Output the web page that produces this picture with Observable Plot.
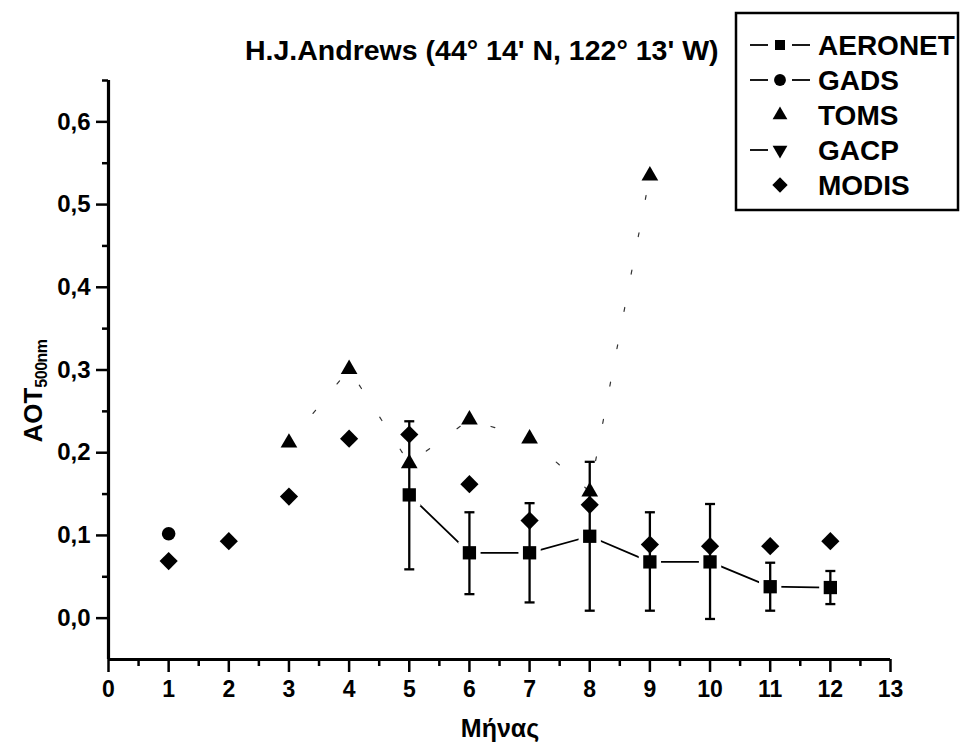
<!DOCTYPE html>
<html><head><meta charset="utf-8">
<script src="https://cdn.jsdelivr.net/npm/d3@7"></script>
<script src="https://cdn.jsdelivr.net/npm/@observablehq/plot@0.6"></script>
<style>body{margin:0;background:#fff} svg{display:block}</style>
</head><body><div id="chart"></div>
<script>
const title = "H.J.Andrews (44° 14' N, 122° 13' W)";
const xLabel = "Μήνας";
const yLabelMain = "AOT";
const yLabelSub = "500nm";
const seriesNames = ["AERONET", "GADS", "TOMS", "GACP", "MODIS"];

const aeronetMonths = [5, 6, 7, 8, 9, 10, 11, 12];
const aeronetValues = [0.149, 0.079, 0.079, 0.099, 0.068, 0.068, 0.038, 0.037];
const aeronetLow    = [0.059, 0.029, 0.019, 0.009, 0.009, -0.001, 0.009, 0.017];
const aeronetHigh   = [0.238, 0.128, 0.139, 0.189, 0.128, 0.138, 0.067, 0.057];

const gadsMonths = [1];
const gadsValues = [0.102];

const tomsMonths = [3, 4, 5, 6, 7, 8, 9];
const tomsValues = [0.212, 0.301, 0.187, 0.240, 0.217, 0.153, 0.535];

const gacpMonths = [];
const gacpValues = [];

const modisMonths = [1, 2, 3, 4, 5, 6, 7, 8, 9, 10, 11, 12];
const modisValues = [0.069, 0.093, 0.147, 0.217, 0.222, 0.162, 0.118, 0.137, 0.089, 0.087, 0.087, 0.093];

const xTicks = [0, 1, 2, 3, 4, 5, 6, 7, 8, 9, 10, 11, 12, 13];
const xMinorTicks = [0.5, 1.5, 2.5, 3.5, 4.5, 5.5, 6.5, 7.5, 8.5, 9.5, 10.5, 11.5, 12.5];
const yTicks = [0, 0.1, 0.2, 0.3, 0.4, 0.5, 0.6];
const yMinorTicks = [0.05, 0.15, 0.25, 0.35, 0.45, 0.55, 0.65];
const xDomain = [0, 13];
const yDomain = [-0.05, 0.65];

const aeronet = aeronetMonths.map((m, i) => ({month: m, value: aeronetValues[i], lo: aeronetLow[i], hi: aeronetHigh[i]}));
const gads = gadsMonths.map((m, i) => ({month: m, value: gadsValues[i]}));
const toms = tomsMonths.map((m, i) => ({month: m, value: tomsValues[i]}));
const gacp = gacpMonths.map((m, i) => ({month: m, value: gacpValues[i]}));
const modis = modisMonths.map((m, i) => ({month: m, value: modisValues[i]}));

const capSymbol = {
  draw(context, size) {
    const w = Math.sqrt(size / Math.PI);
    context.moveTo(-w, 0);
    context.lineTo(w, 0);
  }
};

const FONT = "'Liberation Sans', Arial, Helvetica, sans-serif";
const comma = d => d.toFixed(1).replace(".", ",");

const plot = Plot.plot({
  width: 962,
  height: 748,
  marginLeft: 108,
  marginRight: 72,
  marginTop: 80,
  marginBottom: 89,
  style: {fontFamily: FONT, fontWeight: "bold", fontSize: "23px", color: "#000", background: "#fff", overflow: "visible"},
  x: {domain: xDomain, label: null},
  y: {domain: yDomain, label: null},
  marks: [
    Plot.axisX({ticks: xMinorTicks, tickSize: 7, strokeWidth: 2.5, tickFormat: () => "", label: null}),
    Plot.axisX({ticks: xTicks, tickSize: 13, tickPadding: 8, strokeWidth: 2.5, fontSize: 23, label: null}),
    Plot.axisY({ticks: yMinorTicks, tickSize: 6, strokeWidth: 2.5, tickFormat: () => "", label: null}),
    Plot.axisY({ticks: yTicks, tickSize: 12, tickPadding: 6, strokeWidth: 2.5, fontSize: 24, tickFormat: comma, label: null}),
    Plot.ruleX([xDomain[0]], {strokeWidth: 3.2}),
    Plot.ruleY([yDomain[0]], {strokeWidth: 3.2}),
    Plot.line(toms, {x: "month", y: "value", stroke: "#000", strokeWidth: 1.2, strokeDasharray: "4,34", strokeOpacity: 0.8}),
    Plot.line(aeronet, {x: "month", y: "value", stroke: "#000", strokeWidth: 1.8}),
    Plot.dot(aeronet, {x: "month", y: "value", symbol: "square", r: 7.5, fill: "#fff", stroke: "#fff", strokeWidth: 9}),
    Plot.ruleX(aeronet, {x: "month", y1: "lo", y2: "hi", stroke: "#000", strokeWidth: 2.3}),
    Plot.dot(aeronet, {x: "month", y: "hi", symbol: capSymbol, r: 5, stroke: "#000", strokeWidth: 2.3}),
    Plot.dot(aeronet, {x: "month", y: "lo", symbol: capSymbol, r: 5, stroke: "#000", strokeWidth: 2.3}),
    Plot.dot(modis, {x: "month", y: "value", symbol: "diamond2", r: 8.2, fill: "#000"}),
    Plot.dot(toms, {x: "month", y: "value", symbol: "triangle", r: 6.2, fill: "#000"}),
    Plot.dot(gads, {x: "month", y: "value", symbol: "circle", r: 6.8, fill: "#000"}),
    Plot.dot(gacp, {x: "month", y: "value", symbol: "triangle2", r: 6.2, fill: "#000"}),
    Plot.dot(aeronet, {x: "month", y: "value", symbol: "square", r: 7.5, fill: "#000"})
  ]
});

document.getElementById("chart").appendChild(plot);

const svg = d3.select(plot);
// Title
svg.append("text").attr("x", 245).attr("y", 50).attr("dominant-baseline", "central").attr("text-anchor", "start")
  .attr("font-family", FONT).attr("font-weight", "bold").attr("font-size", 28.5).attr("fill", "#000")
  .text(title);
// X label
svg.append("text").attr("x", 500).attr("y", 728).attr("text-anchor", "middle").attr("dominant-baseline", "central")
  .attr("font-family", FONT).attr("font-weight", "bold").attr("font-size", 25).attr("fill", "#000")
  .text(xLabel);
// Y label with subscript
const yl = svg.append("text").attr("transform", "translate(42,391) rotate(-90)").attr("text-anchor", "middle")
  .attr("font-family", FONT).attr("font-weight", "bold").attr("fill", "#000");
yl.append("tspan").attr("font-size", 26).text(yLabelMain);
yl.append("tspan").attr("font-size", 16).attr("dy", 5).attr("letter-spacing", -0.5).text(yLabelSub);

// Legend
const lg = svg.append("g");
lg.append("rect").attr("x", 736).attr("y", 13).attr("width", 222).attr("height", 197)
  .attr("fill", "#fff").attr("stroke", "#000").attr("stroke-width", 2.5);
const legendSymbols = [d3.symbolSquare, d3.symbolCircle, d3.symbolTriangle, d3.symbolTriangle, d3.symbolDiamond2];
const legendSizes = [100, 110, 95, 95, 150];
const legendDashes = [[true, true], [true, true], [false, false], [true, false], [false, false]];
seriesNames.forEach((name, i) => {
  const cy = 45 + i * 35;
  const [l, r] = legendDashes[i];
  if (l) lg.append("line").attr("x1", 750).attr("x2", 768).attr("y1", cy).attr("y2", cy).attr("stroke", "#000").attr("stroke-width", 1.8);
  if (r) lg.append("line").attr("x1", 792).attr("x2", 810).attr("y1", cy).attr("y2", cy).attr("stroke", "#000").attr("stroke-width", 1.8);
  const rot = i === 3 ? " rotate(180)" : "";
  lg.append("path").attr("d", d3.symbol(legendSymbols[i], legendSizes[i])()).attr("transform", `translate(780,${cy})${rot}`).attr("fill", "#000");
  lg.append("text").attr("x", 818).attr("y", cy).attr("dominant-baseline", "central").attr("text-anchor", "start")
    .attr("font-family", FONT).attr("font-weight", "bold").attr("font-size", 28).attr("fill", "#000").text(name);
});
</script></body></html>
